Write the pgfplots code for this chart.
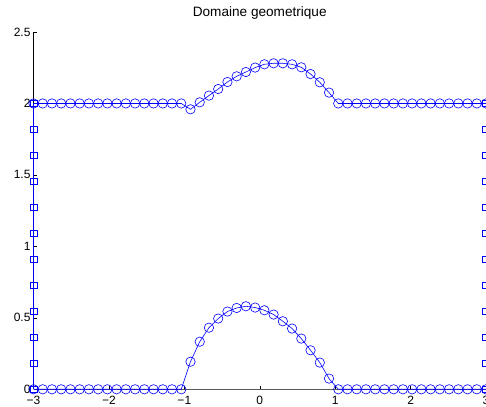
\documentclass[border=0pt]{standalone}
\usepackage{fontspec}
\setmainfont{Liberation Sans}
\usepackage{pgfplots}
\pgfplotsset{compat=1.18}
\begin{document}
\begin{tikzpicture}
\begin{axis}[
 name=ax,
 set layers,
 scale only axis,
 width=452.5pt, height=357.3pt,
 xmin=-3,xmax=3,ymin=0,ymax=2.5,
 axis x line*=bottom, axis y line*=left,
 clip=false,
 tick align=inside,
 major tick length=3pt,
 xtick={-3,-2,-1,0,1,2,3}, xticklabels={−3,−2,−1,0,1,2,3},
 ytick={0,0.5,1,1.5,2,2.5}, yticklabels={0,0.5,1,1.5,2,2.5},
 tick label style={font=\fontsize{12}{14}\selectfont},
 xticklabel style={yshift=-3.3pt},
 yticklabel style={xshift=0.5pt},
 title={Domaine geometrique},
 title style={at={(0.5,1)},anchor=base,yshift=9.5pt,font=\fontsize{13.6}{15}\selectfont},
 x axis line style={black!65, line width=0.6pt},
 y axis line style={black, line width=0.4pt},
 every tick/.style={black, line width=0.5pt},
]
% upper boundary
\addplot[blue, line width=0.6pt, mark=o, mark size=4.7pt] coordinates {
(-3,2) (-2.8776,2) (-2.7551,2) (-2.6327,2) (-2.5102,2) (-2.3878,2) (-2.2653,2) (-2.1429,2)
(-2.0204,2) (-1.8980,2) (-1.7755,2) (-1.6531,2) (-1.5306,2) (-1.4082,2) (-1.2857,2) (-1.1633,2)
(-1.0408,2) (-0.9184,1.959) (-0.7959,2.008) (-0.6735,2.055) (-0.5510,2.101) (-0.4286,2.150)
(-0.3061,2.190) (-0.1837,2.220) (-0.0612,2.251) (0.0612,2.274) (0.1837,2.281) (0.3061,2.281)
(0.4286,2.274) (0.5510,2.253) (0.6735,2.206) (0.7959,2.148) (0.9184,2.076) (1.0408,2)
(1.1633,2) (1.2857,2) (1.4082,2) (1.5306,2) (1.6531,2) (1.7755,2) (1.8980,2) (2.0204,2)
(2.1429,2) (2.2653,2) (2.3878,2) (2.5102,2) (2.6327,2) (2.7551,2) (2.8776,2) (3,2)
};
% lower boundary
\addplot[blue, line width=0.6pt, mark=o, mark size=4.7pt] coordinates {
(-3,0) (-2.8776,0) (-2.7551,0) (-2.6327,0) (-2.5102,0) (-2.3878,0) (-2.2653,0) (-2.1429,0)
(-2.0204,0) (-1.8980,0) (-1.7755,0) (-1.6531,0) (-1.5306,0) (-1.4082,0) (-1.2857,0) (-1.1633,0)
(-1.0408,0) (-0.9184,0.193) (-0.7959,0.333) (-0.6735,0.431) (-0.5510,0.495) (-0.4286,0.544)
(-0.3061,0.569) (-0.1837,0.581) (-0.0612,0.572) (0.0612,0.553) (0.1837,0.523) (0.3061,0.476)
(0.4286,0.425) (0.5510,0.355) (0.6735,0.273) (0.7959,0.187) (0.9184,0.075) (1.0408,0)
(1.1633,0) (1.2857,0) (1.4082,0) (1.5306,0) (1.6531,0) (1.7755,0) (1.8980,0) (2.0204,0)
(2.1429,0) (2.2653,0) (2.3878,0) (2.5102,0) (2.6327,0) (2.7551,0) (2.8776,0) (3,0)
};
% left boundary
\addplot[blue, line width=1pt, mark=square, mark size=3.3pt, mark options={line width=0.6pt}] coordinates {
(-3,0) (-3,0.1818) (-3,0.3636) (-3,0.5455) (-3,0.7273) (-3,0.9091) (-3,1.0909) (-3,1.2727)
(-3,1.4545) (-3,1.6364) (-3,1.8182) (-3,2)
};
% right boundary
\addplot[blue, line width=1pt, mark=square, mark size=3.3pt, mark options={line width=0.6pt}] coordinates {
(3,0) (3,0.1818) (3,0.3636) (3,0.5455) (3,0.7273) (3,0.9091) (3,1.0909) (3,1.2727)
(3,1.4545) (3,1.6364) (3,1.8182) (3,2)
};
\end{axis}
\pgfresetboundingbox
\path[use as bounding box] ([xshift=-33.5pt,yshift=-16.7pt]ax.south west) rectangle ([yshift=32pt]ax.north east);
\end{tikzpicture}
\end{document}
